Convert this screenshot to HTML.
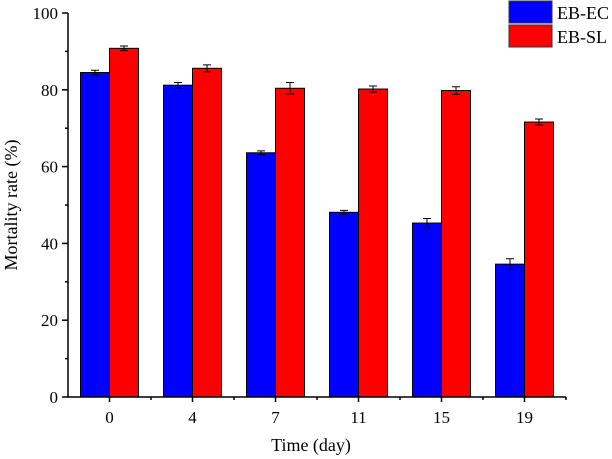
<!DOCTYPE html>
<html><head><meta charset="utf-8"><style>
html,body{margin:0;padding:0;background:#fff;width:612px;height:459px;overflow:hidden}
text{font-family:"Liberation Serif",serif;fill:#000}
</style></head><body>
<svg id="chart" width="612" height="459" xmlns="http://www.w3.org/2000/svg"></svg>
<script>
const categories=["0","4","7","11","15","19"];
const ecValues=[84.5,81.2,63.6,48.1,45.3,34.6];
const ecErrors=[0.6,0.7,0.5,0.5,1.2,1.4];
const slValues=[90.8,85.6,80.4,80.2,79.8,71.6];
const slErrors=[0.6,0.9,1.5,0.8,1.0,0.8];
const yTicks=[0,20,40,60,80,100];
const svg=document.getElementById('chart');
const NS='http://www.w3.org/2000/svg';
const x0=68,x1=566,yTop=13,yBot=397,ymax=100;
const step=(x1-x0)/categories.length;
function xc(i){return x0+step*(i+0.5);}
function y(v){return yBot-(v/ymax)*(yBot-yTop);}
function mk(tag,attrs,parent){const e=document.createElementNS(NS,tag);for(const k in attrs)e.setAttribute(k,attrs[k]);(parent||svg).appendChild(e);return e;}
const bw=29;
function series(vals,errs,color,off,name){
 const g=mk('g',{});
 
 
 vals.forEach((v,i)=>{
  const bx=xc(i)+off;
  const r=mk('rect',{x:bx,y:y(v),width:bw,height:yBot-y(v),fill:color,stroke:'#000','stroke-width':1},g);
  
  
  const cx=bx+bw/2,e=errs[i];
  const eb=mk('path',{d:`M${cx},${y(v+e)}V${y(v-e)}M${cx-4},${y(v+e)}H${cx+4}M${cx-4},${y(v-e)}H${cx+4}`,stroke:'#000','stroke-width':1,fill:'none'},g);
  
  
 });
}
series(ecValues,ecErrors,'#0000ff',-bw,'eb-ec');
series(slValues,slErrors,'#ff0000',0,'eb-sl');
const ax=mk('path',{d:`M${x0},${yTop}V${yBot}H${x1}`,stroke:'#000','stroke-width':1.5,fill:'none'});


yTicks.forEach(t=>{
 mk('line',{x1:x0-6,x2:x0,y1:y(t),y2:y(t),stroke:'#000','stroke-width':1.5});
 const tx=mk('text',{x:x0-10,y:y(t)+6,'text-anchor':'end','font-size':17});
 tx.textContent=t;
 
 
 if(t<100) mk('line',{x1:x0-3,x2:x0,y1:y(t+10),y2:y(t+10),stroke:'#000','stroke-width':1.5});
});
categories.forEach((c,i)=>{
 mk('line',{x1:xc(i),x2:xc(i),y1:yBot,y2:yBot+5,stroke:'#000','stroke-width':1.5});
 mk('line',{x1:x0+step*(i+1),x2:x0+step*(i+1),y1:yBot,y2:yBot+3,stroke:'#000','stroke-width':1.5});
 const tx=mk('text',{x:xc(i),y:yBot+26,'text-anchor':'middle','font-size':17});
 tx.textContent=c;
 
 
});
const xt=mk('text',{x:311,y:451,'text-anchor':'middle','font-size':18});
xt.textContent='Time (day)';


const yt=mk('text',{x:0,y:0,'text-anchor':'middle','font-size':18,transform:`translate(17,${(yTop+yBot)/2}) rotate(-90)`});
yt.textContent='Mortality rate (%)';


[['EB-EC','#0000ff',1],['EB-SL','#ff0000',25]].forEach(([l,c,ly])=>{
 const r=mk('rect',{x:509,y:ly,width:43,height:22,fill:c,stroke:'#333','stroke-width':1});
 
 
 const t=mk('text',{x:557,y:ly+18,'font-size':18});
 t.textContent=l;
 
 
});
</script>
</body></html>
